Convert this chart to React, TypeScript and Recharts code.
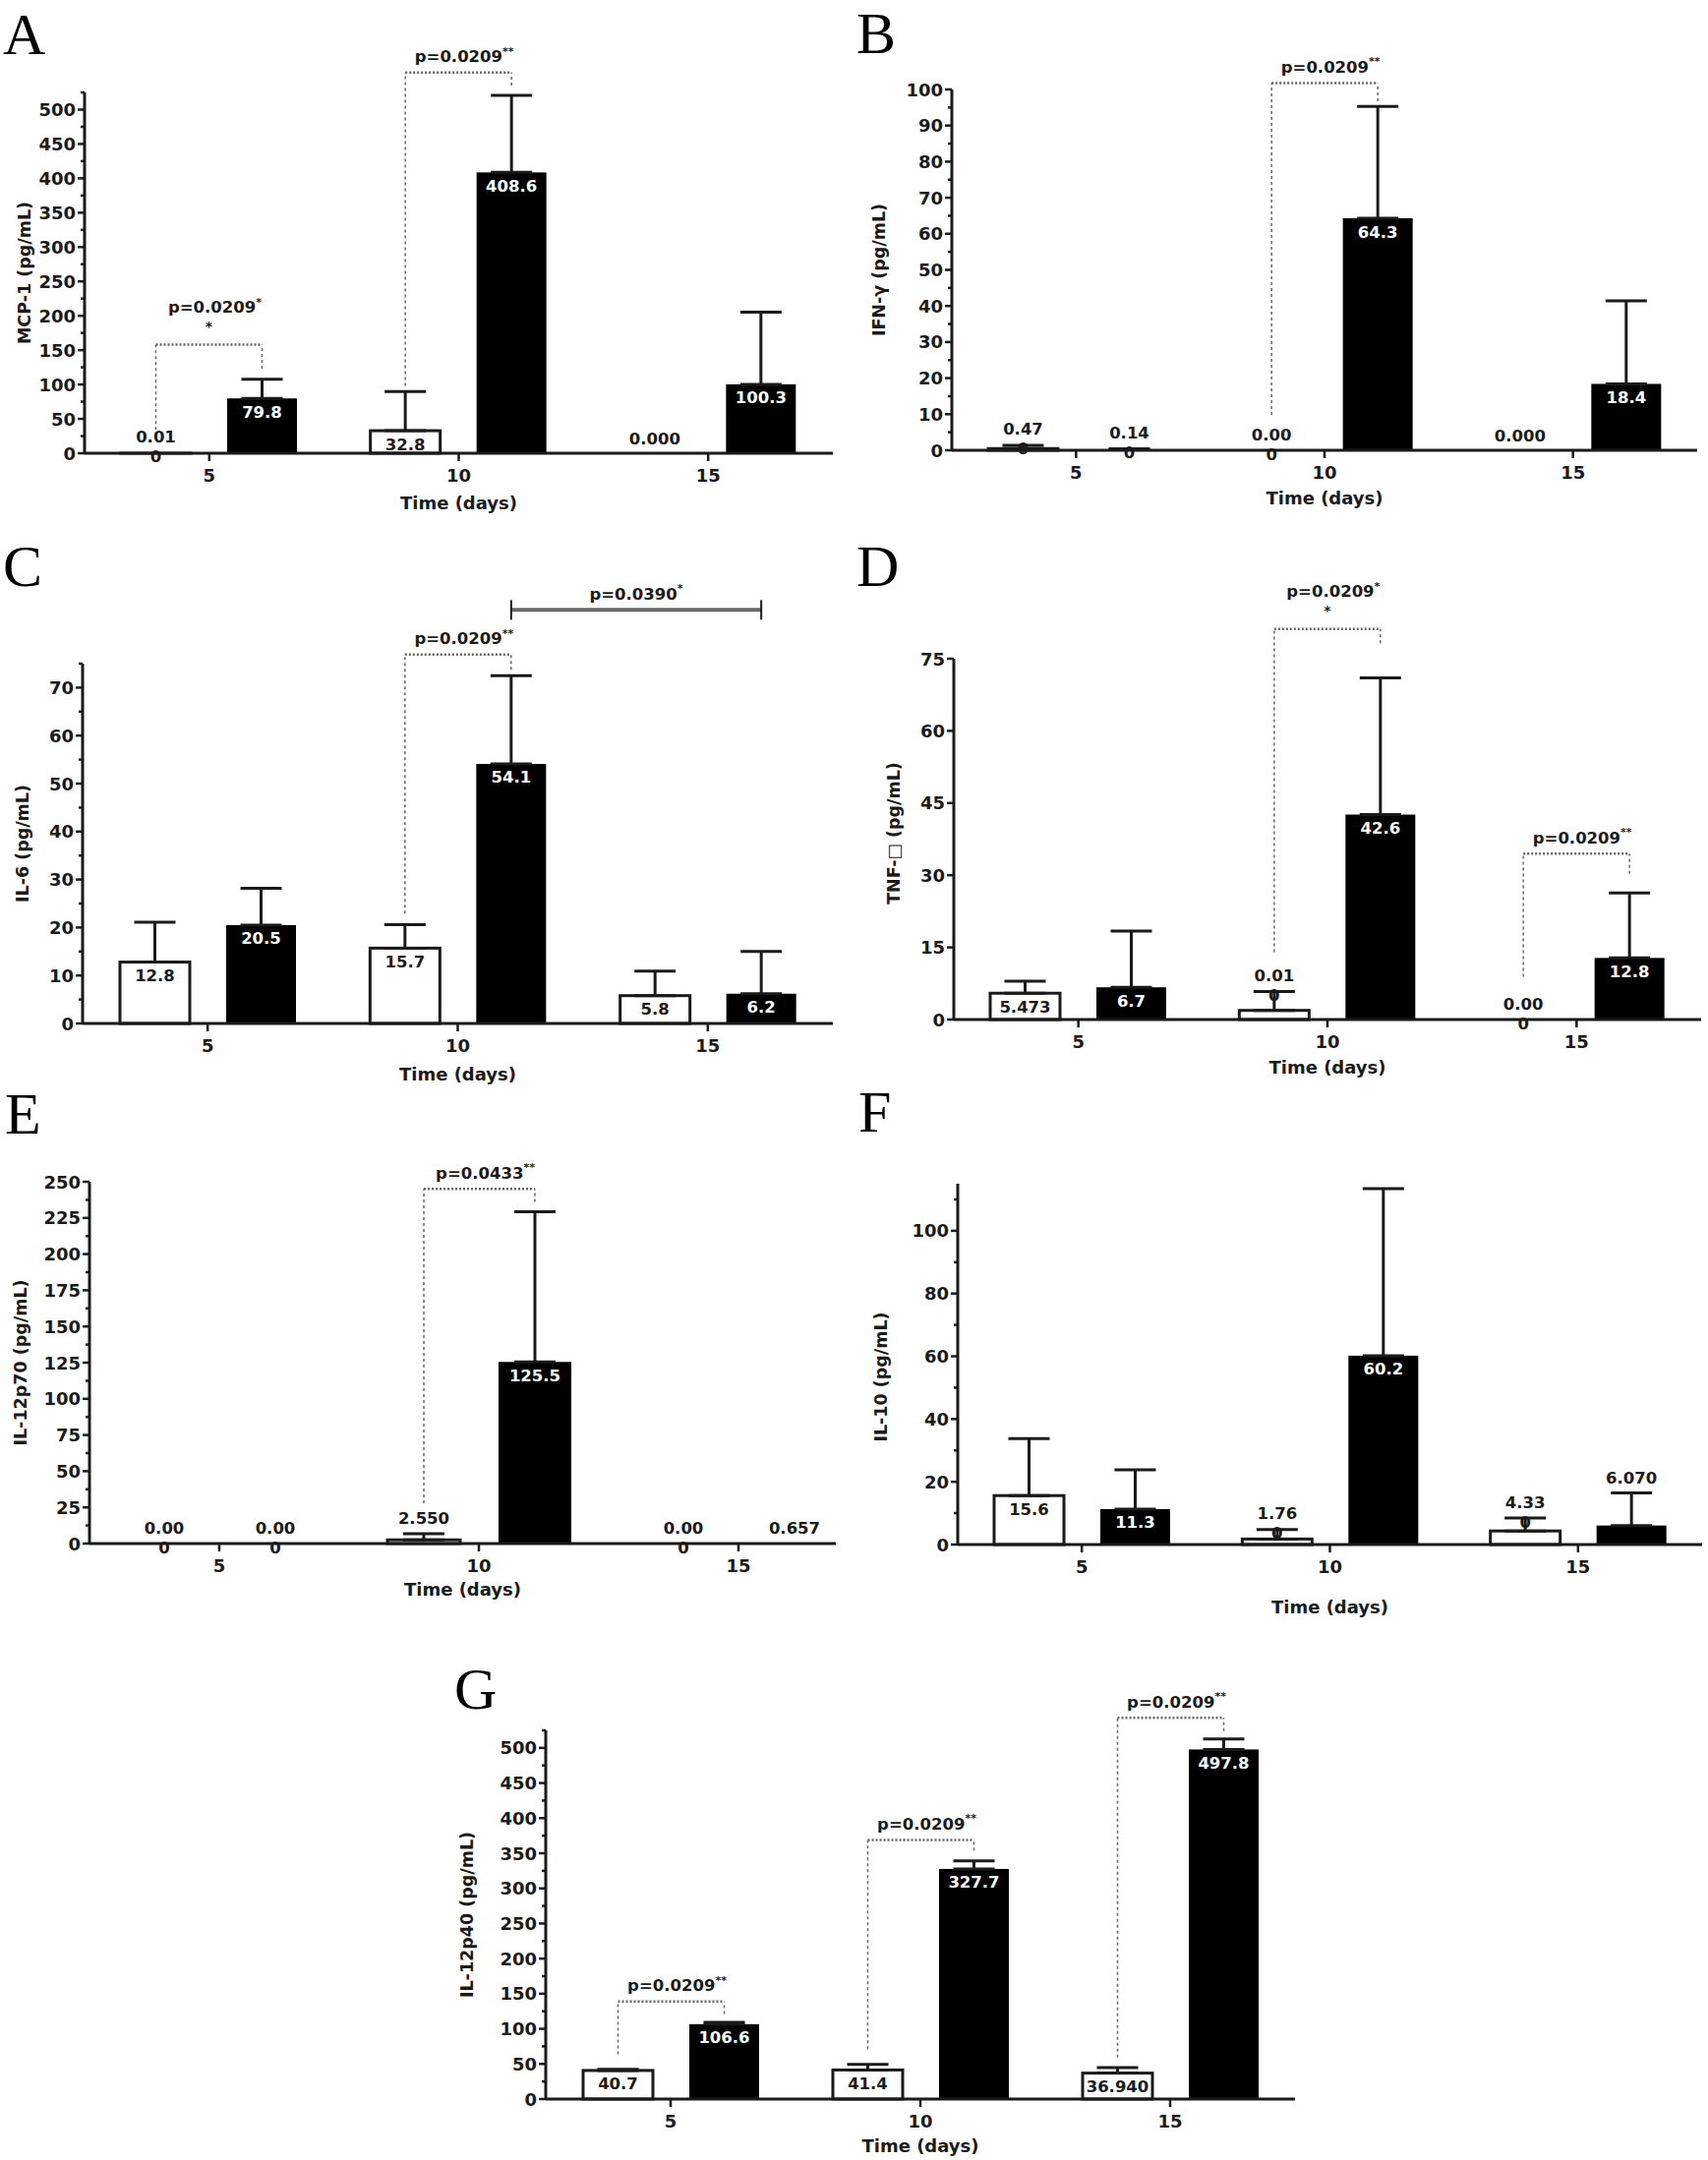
import React from "react";
import { Bar, BarChart, ErrorBar, Label, XAxis, YAxis } from "recharts";

const FONT = "'DejaVu Sans', 'Liberation Sans', Arial, sans-serif";
const INK = "#1a1a1a";
const DOT = "#666";

const days = ["5", "10", "15"];

// A - MCP-1
const mcpCtrl = [0.01, 32.8, 0];
const mcpCtrlErr = [null, 57, null];
const mcpCtrlText = ["0.01|0", "32.8", "0.000"];
const mcpInf = [79.8, 408.6, 100.3];
const mcpInfErr = [28, 112, 105];
const mcpInfText = ["79.8", "408.6", "100.3"];
const mcpTicks = [0, 50, 100, 150, 200, 250, 300, 350, 400, 450, 500];

// B - IFN-g
const ifnCtrl = [0.47, 0, 0];
const ifnCtrlErr = [0.9, null, null];
const ifnCtrlText = ["0.47|0", "0.00|0", "0.000"];
const ifnInf = [0.14, 64.3, 18.4];
const ifnInfErr = [0.25, 31, 23];
const ifnInfText = ["0.14|0", "64.3", "18.4"];
const ifnTicks = [0, 10, 20, 30, 40, 50, 60, 70, 80, 90, 100];

// C - IL-6
const il6Ctrl = [12.8, 15.7, 5.8];
const il6CtrlErr = [8.3, 4.9, 5.1];
const il6CtrlText = ["12.8", "15.7", "5.8"];
const il6Inf = [20.5, 54.1, 6.2];
const il6InfErr = [7.7, 18.4, 8.8];
const il6InfText = ["20.5", "54.1", "6.2"];
const il6Ticks = [0, 10, 20, 30, 40, 50, 60, 70];

// D - TNF
const tnfCtrl = [5.473, 1.9, 0];
const tnfCtrlErr = [2.5, 3.9, null];
const tnfCtrlText = ["5.473", "0.01|0", "0.00|0"];
const tnfInf = [6.7, 42.6, 12.8];
const tnfInfErr = [11.7, 28.4, 13.5];
const tnfInfText = ["6.7", "42.6", "12.8"];
const tnfTicks = [0, 15, 30, 45, 60, 75];

// E - IL-12p70
const p70Ctrl = [0, 2.55, 0];
const p70CtrlErr = [null, 4.25, null];
const p70CtrlText = ["0.00|0", "2.550", "0.00|0"];
const p70Inf = [0, 125.5, 0.657];
const p70InfErr = [null, 103.7, null];
const p70InfText = ["0.00|0", "125.5", "0.657"];
const p70Ticks = [0, 25, 50, 75, 100, 125, 150, 175, 200, 225, 250];

// F - IL-10
const il10Ctrl = [15.6, 1.76, 4.33];
const il10CtrlErr = [18.2, 3.0, 4.1];
const il10CtrlText = ["15.6", "1.76|0", "4.33|0"];
const il10Inf = [11.3, 60.2, 6.07];
const il10InfErr = [12.5, 53.2, 10.4];
const il10InfText = ["11.3", "60.2", "6.070"];
const il10Ticks = [0, 20, 40, 60, 80, 100];

// G - IL-12p40
const p40Ctrl = [40.7, 41.4, 36.94];
const p40CtrlErr = [1.6, 8.1, 7.7];
const p40CtrlText = ["40.7", "41.4", "36.940"];
const p40Inf = [106.6, 327.7, 497.8];
const p40InfErr = [2.7, 11.4, 14.8];
const p40InfText = ["106.6", "327.7", "497.8"];

// significance brackets: group index, left leg start, top, right leg end (data units)
const mcpBrackets = [
  { g: 0, from: 34, top: 158, to: 123, p: "p=0.0209", stars: "*", extra: true },
  { g: 1, from: 98, top: 554, to: 535, p: "p=0.0209", stars: "**" },
];
const ifnBrackets = [{ g: 1, from: 9.8, top: 101.8, to: 96.7, p: "p=0.0209", stars: "**" }];
const il6Brackets = [{ g: 1, from: 22.9, top: 76.9, to: 73.7, p: "p=0.0209", stars: "**" }];
const il6Span = { from: 1, to: 2, at: 86.2, p: "p=0.0390", stars: "*" };
const tnfBrackets = [
  { g: 1, from: 14, top: 81.2, to: 78.2, p: "p=0.0209", stars: "*", extra: true },
  { g: 2, from: 8.9, top: 34.5, to: 30.3, p: "p=0.0209", stars: "**" },
];
const p70Brackets = [{ g: 1, from: 27.9, top: 245, to: 236, p: "p=0.0433", stars: "**" }];
const p40Brackets = [
  { g: 0, from: 63.8, top: 139, to: 121, p: "p=0.0209", stars: "**" },
  { g: 1, from: 71, top: 369, to: 353.7, p: "p=0.0209", stars: "**" },
  { g: 2, from: 59, top: 543, to: 524, p: "p=0.0209", stars: "**" },
];

const PAD_L = 100;
const PAD_T = 110;
const PAD_R = 15;
const PAD_B = 80;
const YW = 60;
const XH = 30;

const panels = [
  {
    key: "A", x0: 86, x1: 847, yTop: 94, y0: 461, max: 525, ticks: mcpTicks, minor: true, topMinor: [525],
    ctrl: mcpCtrl, ctrlErr: mcpCtrlErr, ctrlText: mcpCtrlText, inf: mcpInf, infErr: mcpInfErr, infText: mcpInfText,
    brackets: mcpBrackets, title: "MCP-1 (pg/mL)", titleDist: 61, titleDy: 0, xTitleDist: 50,
  },
  {
    key: "B", x0: 968, x1: 1726, yTop: 91, y0: 458, max: 100, ticks: ifnTicks, minor: true, topMinor: [],
    ctrl: ifnCtrl, ctrlErr: ifnCtrlErr, ctrlText: ifnCtrlText, inf: ifnInf, infErr: ifnInfErr, infText: ifnInfText,
    brackets: ifnBrackets, title: "IFN-\u03b3 (pg/mL)", titleDist: 74, titleDy: 0, xTitleDist: 48,
  },
  {
    key: "C", x0: 84, x1: 847, yTop: 675, y0: 1041, max: 75, ticks: il6Ticks, minor: true, topMinor: [75],
    ctrl: il6Ctrl, ctrlErr: il6CtrlErr, ctrlText: il6CtrlText, inf: il6Inf, infErr: il6InfErr, infText: il6InfText,
    brackets: il6Brackets, span: il6Span, title: "IL-6 (pg/mL)", titleDist: 61, titleDy: 0, xTitleDist: 51,
  },
  {
    key: "D", x0: 970, x1: 1730, yTop: 670, y0: 1037, max: 75, ticks: tnfTicks, minor: false, topMinor: [],
    ctrl: tnfCtrl, ctrlErr: tnfCtrlErr, ctrlText: tnfCtrlText, inf: tnfInf, infErr: tnfInfErr, infText: tnfInfText,
    brackets: tnfBrackets, title: "TNF-\u25a1 (pg/mL)", titleDist: 61, titleDy: -6, xTitleDist: 48,
  },
  {
    key: "E", x0: 91, x1: 850, yTop: 1202, y0: 1570, max: 250, ticks: p70Ticks, minor: true, topMinor: [],
    barSize: 74, gap: 39, padRight: -33,
    ctrl: p70Ctrl, ctrlErr: p70CtrlErr, ctrlText: p70CtrlText, inf: p70Inf, infErr: p70InfErr, infText: p70InfText,
    brackets: p70Brackets, title: "IL-12p70 (pg/mL)", titleDist: 70, titleDy: 0, xTitleDist: 46,
  },
  {
    key: "F", x0: 974, x1: 1731, yTop: 1204, y0: 1571, max: 115, ticks: il10Ticks, minor: true, topMinor: [110],
    ctrl: il10Ctrl, ctrlErr: il10CtrlErr, ctrlText: il10CtrlText, inf: il10Inf, infErr: il10InfErr, infText: il10InfText,
    brackets: [], title: "IL-10 (pg/mL)", titleDist: 78, titleDy: 13, xTitleDist: 63,
  },
  {
    key: "G", x0: 555, x1: 1317, yTop: 1760, y0: 2135, max: 525, ticks: mcpTicks, minor: true, topMinor: [525],
    ctrl: p40Ctrl, ctrlErr: p40CtrlErr, ctrlText: p40CtrlText, inf: p40Inf, infErr: p40InfErr, infText: p40InfText,
    brackets: p40Brackets, title: "IL-12p40 (pg/mL)", titleDist: 80, titleDy: 0, xTitleDist: 47,
  },
];

const letters = [
  { t: "A", x: 3, y: 55 },
  { t: "B", x: 871, y: 54 },
  { t: "C", x: 3, y: 596 },
  { t: "D", x: 871, y: 596 },
  { t: "E", x: 5, y: 1153 },
  { t: "F", x: 873, y: 1151 },
  { t: "G", x: 462, y: 1738 },
];

const txt = { fontFamily: FONT, fontWeight: 700 as const, dominantBaseline: "central" as const };

const YTick = (props: any) => {
  const { x, y, payload, majors } = props;
  const major = majors.includes(payload.value);
  return (
    <g>
      <line x1={x} x2={x - (major ? 7 : 4)} y1={y} y2={y} stroke={INK} strokeWidth={2.5} />
      {major && (
        <text {...txt} x={x - 9} y={y} textAnchor="end" fontSize={18} fill={INK}>
          {payload.value}
        </text>
      )}
    </g>
  );
};

const XTick = (props: any) => {
  const { x, y, payload } = props;
  return (
    <g>
      <line x1={x} x2={x} y1={y} y2={y + 8} stroke={INK} strokeWidth={2.5} />
      <text {...txt} x={x} y={y + 22} textAnchor="middle" fontSize={18} fill={INK}>
        {payload.value}
      </text>
    </g>
  );
};

const PText = ({ x, y, p, stars }: any) => (
  <text {...txt} x={x} y={y} textAnchor="middle" fontSize={16.5} fill={INK}>
    {p}
    <tspan fontSize={11} dy={-6}>
      {stars}
    </tspan>
  </text>
);

function barLabel(text: string, cx: number, top: number, capY: number, inside: boolean, color: string) {
  const lines = text.split("|");
  if (inside) {
    return (
      <text {...txt} x={cx} y={top + 14} textAnchor="middle" fontSize={16.5} fill={color}>
        {lines[0]}
      </text>
    );
  }
  if (lines.length === 1) {
    return (
      <text {...txt} x={cx} y={capY - 15} textAnchor="middle" fontSize={16.5} fill={INK}>
        {lines[0]}
      </text>
    );
  }
  return (
    <g>
      <text {...txt} x={cx} y={capY - 16} textAnchor="middle" fontSize={16.5} fill={INK}>
        {lines[0]}
      </text>
      <text {...txt} x={cx} y={capY + 4} textAnchor="middle" fontSize={16.5} fill={INK}>
        {lines[1]}
      </text>
    </g>
  );
}

function makeShape(cfg: any, kind: "ctrl" | "inf") {
  const size = cfg.barSize ?? 71;
  const gap = cfg.gap ?? 37;
  return (props: any) => {
    const { x, y, width, height, index } = props;
    const plotH = props.background?.height ?? cfg.y0 - cfg.yTop;
    const ppu = plotH / cfg.max;
    const zeroY = y + height;
    const toY = (v: number) => zeroY - v * ppu;
    const value = cfg[kind][index];
    const err = cfg[kind + "Err"][index] ?? 0;
    const capY = toY(value + err);
    const cx = x + width / 2;
    const inside = height >= 22;
    const label = barLabel(cfg[kind + "Text"][index], cx, y, capY, inside, kind === "inf" ? "#fff" : INK);
    const rect =
      height > 0 ? (
        kind === "ctrl" ? (
          <rect x={x} y={y} width={width} height={height} fill="#fff" stroke={INK} strokeWidth={3} />
        ) : (
          <rect x={x} y={y} width={width} height={height} fill="#000" />
        )
      ) : null;
    const extras: React.ReactNode[] = [];
    if (kind === "inf") {
      cfg.brackets
        .filter((b: any) => b.g === index)
        .forEach((b: any, i: number) => {
          const rx = cx;
          const lx = cx - (size + gap);
          const ty = toY(b.top);
          const mid = (lx + rx) / 2;
          extras.push(
            <g key={"b" + i}>
              <line x1={lx} x2={lx} y1={toY(b.from)} y2={ty} stroke={DOT} strokeWidth={1.5} strokeDasharray="3 3" />
              <line x1={rx} x2={rx} y1={toY(b.to)} y2={ty} stroke={DOT} strokeWidth={1.5} strokeDasharray="3 3" />
              <line x1={lx} x2={rx} y1={ty} y2={ty} stroke={DOT} strokeWidth={2.5} strokeDasharray="2 2" />
              {b.extra ? (
                <>
                  <PText x={mid + 6} y={ty - 38} p={b.p} stars={b.stars} />
                  <text {...txt} x={mid} y={ty - 19} textAnchor="middle" fontSize={14} fill={INK}>
                    *
                  </text>
                </>
              ) : (
                <PText x={mid + 6} y={ty - 16} p={b.p} stars={b.stars} />
              )}
            </g>
          );
        });
      if (cfg.span && cfg.span.to === index) {
        const band = (cfg.x1 - cfg.x0) / 3;
        const lx = cx - band * (cfg.span.to - cfg.span.from);
        const sy = toY(cfg.span.at);
        extras.push(
          <g key="span">
            <line x1={lx} x2={cx} y1={sy} y2={sy} stroke="#444" strokeWidth={3.5} />
            <line x1={lx} x2={cx} y1={sy} y2={sy} stroke="#aaa" strokeWidth={0.8} />
            <line x1={lx} x2={lx} y1={sy - 10} y2={sy + 10} stroke={INK} strokeWidth={2} />
            <line x1={cx} x2={cx} y1={sy - 10} y2={sy + 10} stroke={INK} strokeWidth={2} />
            <PText x={(lx + cx) / 2} y={sy - 16} p={cfg.span.p} stars={cfg.span.stars} />
          </g>
        );
      }
    }
    return (
      <g>
        {rect}
        {label}
        {extras}
      </g>
    );
  };
}

function Panel({ cfg }: { cfg: any }) {
  const data = days.map((d, i) => ({
    day: d,
    ctrl: cfg.ctrl[i],
    ctrlErr: cfg.ctrlErr[i] == null ? null : [0, cfg.ctrlErr[i]],
    inf: cfg.inf[i],
    infErr: cfg.infErr[i] == null ? null : [0, cfg.infErr[i]],
  }));
  const majors: number[] = cfg.ticks;
  const minors: number[] = cfg.minor
    ? majors.slice(0, -1).map((t: number, i: number) => (t + majors[i + 1]) / 2).concat(cfg.topMinor)
    : [];
  const allTicks = [...majors, ...minors].sort((a, b) => a - b);
  const width = cfg.x1 - cfg.x0 + PAD_L + PAD_R;
  const height = cfg.y0 - cfg.yTop + PAD_T + PAD_B;
  const size = cfg.barSize ?? 71;
  const gap = cfg.gap ?? 37;

  return (
    <div style={{ position: "absolute", left: cfg.x0 - PAD_L, top: cfg.yTop - PAD_T }}>
      <BarChart
        width={width}
        height={height}
        data={data}
        margin={{ top: PAD_T, right: PAD_R, bottom: PAD_B - XH, left: PAD_L - YW }}
        barSize={size}
        barGap={gap}
      >
        <XAxis
          dataKey="day"
          height={XH}
          tickSize={0}
          tickMargin={0}
          tickLine={false}
          interval={0}
          axisLine={{ stroke: INK, strokeWidth: 3 }}
          tick={<XTick />}
          padding={{ left: 0, right: cfg.padRight ?? 0 }}
        >
          <Label
            content={(p: any) => (
              <text
                {...txt}
                x={p.viewBox.x + p.viewBox.width / 2}
                y={p.viewBox.y + cfg.xTitleDist}
                textAnchor="middle"
                fontSize={18}
                fill={INK}
              >
                Time (days)
              </text>
            )}
          />
        </XAxis>
        <YAxis
          type="number"
          width={YW}
          domain={[0, cfg.max]}
          ticks={allTicks}
          interval={0}
          tickSize={0}
          tickMargin={0}
          tickLine={false}
          axisLine={{ stroke: INK, strokeWidth: 3 }}
          tick={<YTick majors={majors} />}
        >
          <Label
            content={(p: any) => {
              const tx = p.viewBox.x + p.viewBox.width - cfg.titleDist;
              const ty = p.viewBox.y + p.viewBox.height / 2 + cfg.titleDy;
              return (
                <text
                  {...txt}
                  x={tx}
                  y={ty}
                  textAnchor="middle"
                  fontSize={17.5}
                  fill={INK}
                  transform={`rotate(-90 ${tx} ${ty})`}
                >
                  {cfg.title}
                </text>
              );
            }}
          />
        </YAxis>
        <Bar dataKey="ctrl" isAnimationActive={false} shape={makeShape(cfg, "ctrl")}>
          <ErrorBar dataKey="ctrlErr" width={21} strokeWidth={3} stroke={INK} direction="y" />
        </Bar>
        <Bar dataKey="inf" isAnimationActive={false} shape={makeShape(cfg, "inf")}>
          <ErrorBar dataKey="infErr" width={21} strokeWidth={3} stroke={INK} direction="y" />
        </Bar>
      </BarChart>
    </div>
  );
}

export default function App() {
  return (
    <div
      style={{
        position: "absolute",
        left: 0,
        top: 0,
        width: 1737,
        height: 2197,
        overflow: "hidden",
        background: "#fff",
      }}
    >
      <svg width={1737} height={2197} style={{ position: "absolute", left: 0, top: 0 }}>
        {letters.map((l) => (
          <text key={l.t} x={l.x} y={l.y} fontFamily="'Liberation Serif', 'Times New Roman', serif" fontSize={60} fill="#000">
            {l.t}
          </text>
        ))}
      </svg>
      {panels.map((cfg) => (
        <Panel key={cfg.key} cfg={cfg} />
      ))}
    </div>
  );
}
